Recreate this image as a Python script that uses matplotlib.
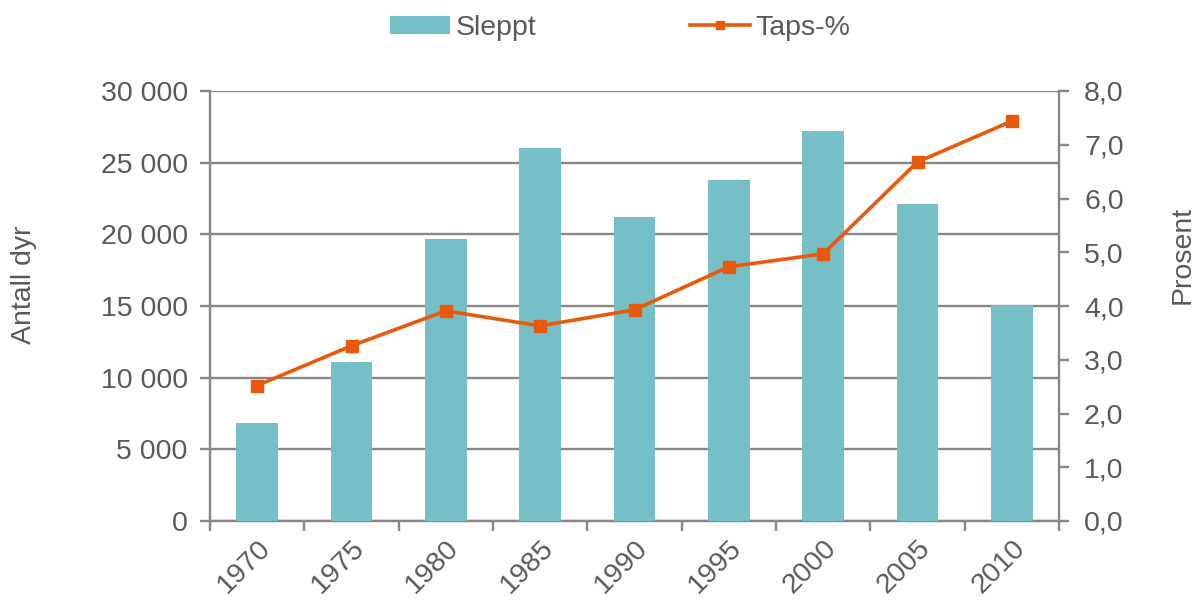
import matplotlib
matplotlib.use("Agg")
import matplotlib.pyplot as plt
from matplotlib.ticker import FuncFormatter, FixedLocator
from matplotlib.lines import Line2D
from matplotlib.patches import Patch

years = ["1970", "1975", "1980", "1985", "1990", "1995", "2000", "2005", "2010"]
sleppt = [6850, 11070, 19670, 26000, 21200, 23800, 27200, 22150, 15070]
taps = [2.52, 3.26, 3.91, 3.63, 3.93, 4.73, 4.97, 6.68, 7.44]

BAR = "#77BFC7"
LINE = "#E8590C"
GRID = "#878787"
TXT = "#595959"
FS = 20.5

plt.rcParams["font.family"] = ["Liberation Sans", "DejaVu Sans"]

fig = plt.figure(figsize=(11.98, 6.01), dpi=100)
W, H = 1198, 601
ax = fig.add_axes([210 / W, 1 - 521 / H, (1059 - 210) / W, (521 - 91) / H])
ax2 = ax.twinx()

x = list(range(len(years)))
ax.bar(x, sleppt, width=0.445, color=BAR, zorder=3)
ax.set_xlim(-0.5, len(years) - 0.5)
ax.set_ylim(0, 30000)
ax.set_yticks(range(0, 30001, 5000))
ax.yaxis.set_major_formatter(FuncFormatter(lambda v, p: f"{int(v):,}".replace(",", " ")))
ax.grid(axis="y", color=GRID, linewidth=1.7, zorder=0)
ax.set_axisbelow(True)

ax.set_xticks(x)
ax.set_xticklabels(years, rotation=45, ha="right", rotation_mode="anchor")
ax.xaxis.set_minor_locator(FixedLocator([i - 0.5 for i in range(len(years) + 1)]))
ax.tick_params(axis="x", which="major", length=0, pad=10, labelsize=FS, labelcolor=TXT)
ax.tick_params(axis="x", which="minor", length=7, width=1.7, color=GRID, direction="out")
ax.tick_params(axis="y", length=7, width=1.7, color=GRID, labelsize=FS, labelcolor=TXT, pad=9)

for s in ["top", "right"]:
    ax.spines[s].set_visible(False)
for s in ["left", "bottom"]:
    ax.spines[s].set_color(GRID)
    ax.spines[s].set_linewidth(1.7)

ax2.plot(x, taps, color=LINE, linewidth=2.6, marker="s", markersize=8, zorder=5)
ax2.set_ylim(0, 8)
ax2.set_yticks(range(0, 9))
ax2.yaxis.set_major_formatter(FuncFormatter(lambda v, p: f"{v:.1f}".replace(".", ",")))
ax2.tick_params(axis="y", length=7, width=1.7, color=GRID, labelsize=FS, labelcolor=TXT, pad=11)
for s in ["top", "left", "bottom"]:
    ax2.spines[s].set_visible(False)
ax2.spines["right"].set_color(GRID)
ax2.spines["right"].set_linewidth(1.7)

fig.text(24 / W, 1 - 285 / H, "Antall dyr", rotation=90, ha="center", va="center",
         fontsize=FS, color=TXT)
fig.text(1183 / W, 1 - 255 / H, "Prosent", rotation=90, ha="center", va="center",
         fontsize=FS, color=TXT)

handles = [Patch(facecolor=BAR, edgecolor="none"),
           Line2D([0], [0], color=LINE, linewidth=2.6, marker="s", markersize=6)]
leg = fig.legend(handles, ["Sleppt", "Taps-%"], loc="center", bbox_to_anchor=(620 / W, 1 - 28 / H),
                 ncol=2, frameon=False, fontsize=FS, labelcolor=TXT, handlelength=2.1,
                 handleheight=0.6, handletextpad=0.2, columnspacing=5.4)

fig.savefig("out.png", dpi=100)
